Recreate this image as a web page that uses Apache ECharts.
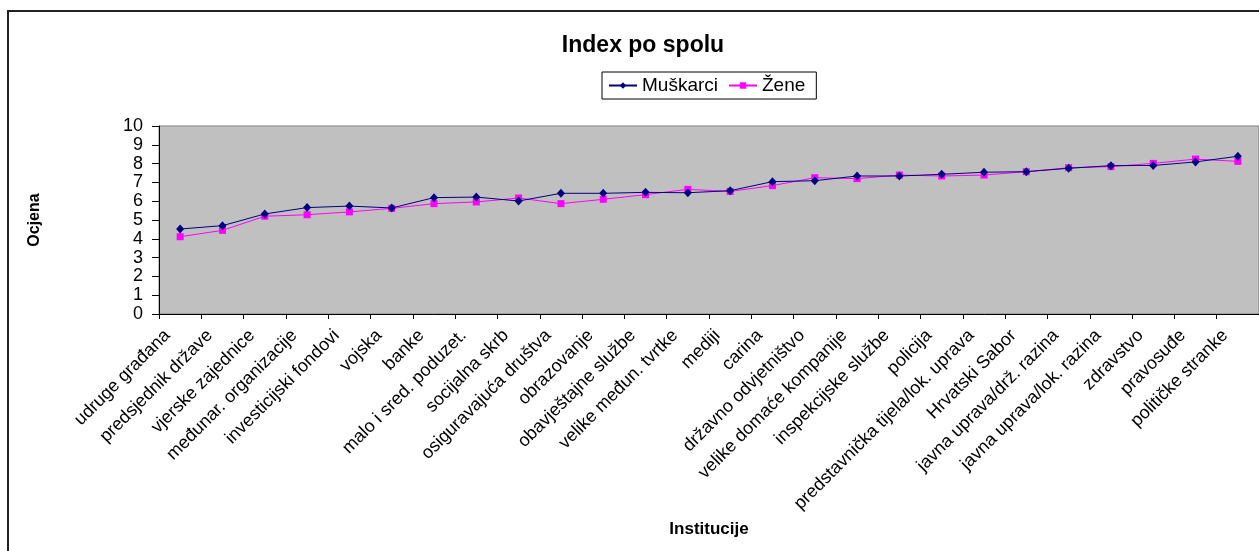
<!DOCTYPE html>
<html>
<head>
<meta charset="utf-8">
<script src="https://cdn.jsdelivr.net/npm/echarts@6/dist/echarts.min.js"></script>
<style>
  html, body { margin: 0; padding: 0; background: #fff; }
  #chart { width: 1259px; height: 551px; }
</style>
</head>
<body>
<div id="chart"></div>
<script>
var institucije = [
    "udruge građana", "predsjednik države", "vjerske zajednice", "međunar. organizacije",
    "investicijski fondovi", "vojska", "banke", "malo i sred. poduzet.", "socijalna skrb",
    "osiguravajuća društva", "obrazovanje", "obavještajne službe", "velike međun. tvrtke",
    "mediji", "carina", "državno odvjetništvo", "velike domaće kompanije", "inspekcijske službe",
    "policija", "predstavnička tijela/lok. uprava", "Hrvatski Sabor", "javna uprava/drž. razina",
    "javna uprava/lok. razina", "zdravstvo", "pravosuđe", "političke stranke"
];
var muskarci = [4.52, 4.70, 5.32, 5.66, 5.74, 5.64, 6.19, 6.22, 6.01, 6.42, 6.42, 6.47, 6.45,
    6.56, 7.04, 7.09, 7.34, 7.34, 7.43, 7.54, 7.57, 7.75, 7.89, 7.90, 8.09, 8.39];
var zene = [4.11, 4.45, 5.20, 5.28, 5.43, 5.62, 5.87, 5.96, 6.17, 5.87, 6.10, 6.35, 6.63,
    6.52, 6.83, 7.25, 7.20, 7.39, 7.34, 7.39, 7.57, 7.78, 7.84, 8.01, 8.24, 8.12];
var yTicks = [0, 1, 2, 3, 4, 5, 6, 7, 8, 9, 10];

var font = "'Liberation Sans', Arial, sans-serif";

document.addEventListener("DOMContentLoaded", function () {
    var chart = echarts.init(document.getElementById("chart"));
    var option = {
        animation: false,
        textStyle: { fontFamily: font, color: '#000' },
        title: {
            text: 'Index po spolu',
            left: 638,
            textAlign: 'center',
            top: 29,
            textStyle: { fontFamily: font, fontSize: 23, fontWeight: 'bold', color: '#000' }
        },
        legend: {
            left: 602,
            top: 72,
            padding: [4, 11, 4, 6],
            itemWidth: 28,
            itemHeight: 8,
            itemGap: 10,
            borderColor: '#000',
            borderWidth: 1,
            borderRadius: 0,
            textStyle: { fontFamily: font, fontSize: 19, color: '#000', padding: [0, 0, 0, 0] },
            data: ['Muškarci', 'Žene']
        },
        graphic: [{
            type: 'rect',
            shape: { x: 8, y: 11, width: 1400, height: 700 },
            style: { fill: 'none', stroke: '#222', lineWidth: 2 },
            silent: true
        }],
        grid: {
            left: 159,
            top: 126,
            right: 0,
            bottom: 237,
            show: true,
            backgroundColor: '#C0C0C0',
            borderColor: '#808080',
            borderWidth: 1
        },
        xAxis: {
            type: 'category',
            data: institucije,
            boundaryGap: true,
            name: 'Institucije',
            nameLocation: 'middle',
            nameGap: 207,
            nameTextStyle: { fontFamily: font, fontSize: 17, fontWeight: 'bold', color: '#000' },
            axisLine: { lineStyle: { color: '#000', width: 1 } },
            axisTick: { show: true, interval: 0, length: 5, lineStyle: { color: '#000' } },
            axisLabel: {
                interval: 0,
                rotate: 45,
                margin: 6,
                padding: [0, 18, 0, 0],
                fontFamily: font,
                fontSize: 18,
                color: '#000'
            },
            splitLine: { show: false }
        },
        yAxis: {
            type: 'value',
            min: yTicks[0],
            max: yTicks[yTicks.length - 1],
            interval: 1,
            name: 'Ocjena',
            nameLocation: 'middle',
            nameGap: 116,
            nameRotate: 90,
            nameTextStyle: { fontFamily: font, fontSize: 16, fontWeight: 'bold', color: '#000' },
            axisLine: { show: true, lineStyle: { color: '#000', width: 1 } },
            axisTick: { show: true, length: 7, lineStyle: { color: '#000' } },
            axisLabel: { margin: 16, fontFamily: font, fontSize: 18, color: '#000' },
            splitLine: { show: false }
        },
        series: [
            {
                name: 'Muškarci',
                type: 'line',
                data: muskarci,
                symbol: 'diamond',
                symbolSize: [8, 9],
                lineStyle: { color: '#000080', width: 1 },
                itemStyle: { color: '#000080' },
                z: 3
            },
            {
                name: 'Žene',
                type: 'line',
                data: zene,
                symbol: 'rect',
                symbolSize: 7,
                lineStyle: { color: '#FF00FF', width: 1 },
                itemStyle: { color: '#FF00FF' },
                z: 2
            }
        ]
    };
    chart.setOption(option);
});
</script>
</body>
</html>
